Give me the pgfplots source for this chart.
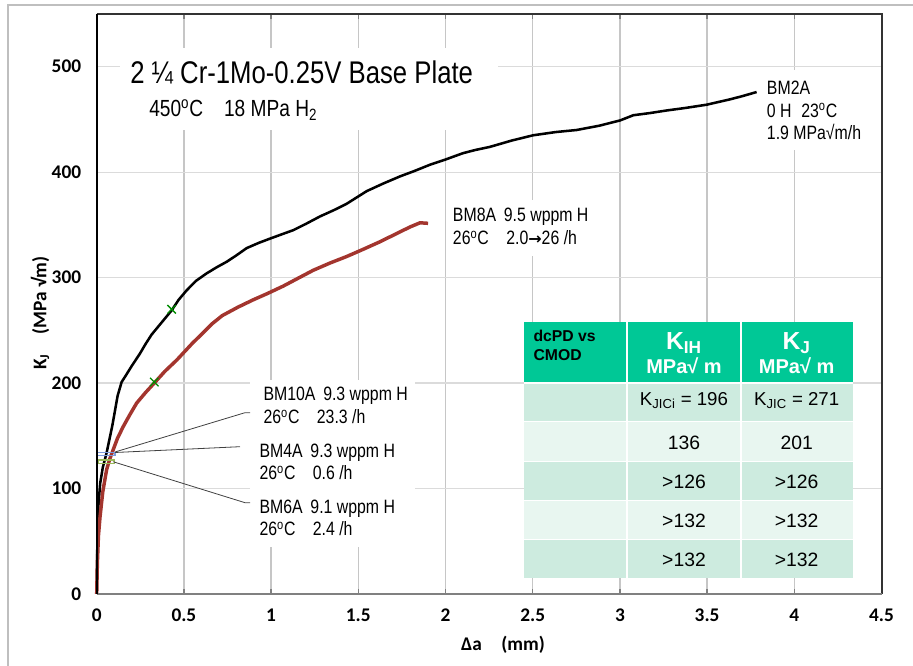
\documentclass[border=0pt]{standalone}
\usepackage{fontspec}
\setmainfont{Liberation Sans}
\newfontfamily\narrow[FakeStretch=0.82]{Liberation Sans}
\newfontfamily\carl{Carlito}
\newfontfamily\dejavu{DejaVu Sans}
\usepackage{pgfplots}
\pgfplotsset{compat=1.18}

\definecolor{bmred}{RGB}{163,53,46}
\definecolor{xgreen}{RGB}{0,140,0}
\definecolor{hdr}{RGB}{0,200,150}
\definecolor{rowA}{RGB}{205,235,223}
\definecolor{rowB}{RGB}{232,246,240}
\definecolor{framegray}{RGB}{191,191,191}
\definecolor{rectblue}{RGB}{125,155,220}
\definecolor{rectolive}{RGB}{155,187,89}

\newcommand{\ann}{\narrow\fontsize{14.5pt}{17pt}\selectfont}
\newcommand{\tb}{\fontsize{14.5pt}{17pt}\selectfont}

\begin{document}
\begin{tikzpicture}
\begin{axis}[
    scale only axis,
    width=588.6pt, height=435pt,
    xmin=0, xmax=4.5, ymin=0, ymax=550,
    xtick={0,0.5,...,4.5}, ytick={0,100,...,500},
    grid=major,
    x grid style={line width=1pt, color=gray!45},
    y grid style={line width=1pt, color=gray!28},
    axis line style={draw=none},
    tick align=inside,
    xtick style={draw=gray, line width=1pt},
    ytick style={draw=none},
    major tick length=4pt,
    ticklabel style={font=\carl\bfseries\fontsize{14.5pt}{16pt}\selectfont, inner sep=0pt},
    /pgf/number format/assume math mode=true,
    xticklabel style={yshift=-11pt},
    yticklabel style={xshift=-11.5pt},
    clip=false,
]
% BM2A, 0 H
\addplot[black, line width=1.9pt] coordinates {
 (0,0) (0.003,40) (0.008,80) (0.02,105) (0.035,120) (0.057,134) (0.09,160)
 (0.12,188) (0.143,201) (0.17,208) (0.2,216) (0.248,228)
 (0.28,237) (0.315,246) (0.36,255) (0.43,269) (0.47,279) (0.516,288)
 (0.57,297) (0.63,304) (0.69,310) (0.745,315) (0.8,321) (0.86,328)
 (0.93,333) (0.994,337) (1.06,341) (1.127,345) (1.2,351) (1.28,358)
 (1.36,364) (1.433,370) (1.5,377) (1.548,382) (1.64,389) (1.739,396)
 (1.82,401) (1.91,407) (2.0,412) (2.1,418) (2.17,421) (2.255,424)
 (2.38,430) (2.503,435) (2.63,438) (2.752,440) (2.88,444) (3.0,449)
 (3.077,454) (3.17,456) (3.268,458.5) (3.38,461) (3.498,464) (3.63,469)
 (3.70,472) (3.784,476)
};
% BM8A, 9.5 wppm H
\addplot[bmred, line width=2.6pt] coordinates {
 (0,0) (0.004,30) (0.01,55) (0.019,73) (0.035,97) (0.057,118) (0.075,128)
 (0.095,137) (0.12,148) (0.153,159) (0.19,170) (0.229,181) (0.28,191)
 (0.33,200) (0.39,211) (0.46,222) (0.55,238) (0.6,246) (0.66,256)
 (0.72,264) (0.81,272) (0.898,279) (0.98,285) (1.07,292) (1.15,299)
 (1.242,307) (1.34,314) (1.433,320) (1.53,327) (1.624,334) (1.71,341)
 (1.796,348) (1.854,352) (1.9,351.5)
};
% K_JIC markers
\addplot[only marks, mark=x, mark size=4.5pt, xgreen, line width=1pt]
 coordinates {(0.43,270) (0.33,201)};
% BM10A / BM4A / BM6A end points
\addplot[rectblue, line width=0.9pt] coordinates {
 (0.003,131) (0.105,131) (0.105,134) (0.003,134) (0.003,131)};
\addplot[rectolive, line width=0.9pt] coordinates {
 (0.01,124) (0.1,124) (0.1,127) (0.01,127) (0.01,124)};
\end{axis}

% annotations in pixel units of the reference
\begin{scope}[x=0.75pt, y=-0.75pt, shift={(-72.525pt,445.5pt)}]
 % chart frame and plot borders
 \draw[framegray, line width=1.1pt] (8,666) -- (8,5) -- (913,5);
 \draw[black!80, line width=1.5pt] (96.7,14) -- (882,14) -- (882,594);
 \draw[gray, line width=1.5pt] (96.7,594) -- (882,594);
 \draw[black, line width=1.5pt] (96.7,594) -- (96.7,14);

 % title
 \fill[white] (120,48) rectangle (498,130);
 \node[anchor=base west, inner sep=0, font=\narrow\fontsize{23.5pt}{28pt}\selectfont]
   at (130,83.3) {2 ¼ Cr-1Mo-0.25V Base Plate};
 \node[anchor=base west, inner sep=0, font=\narrow\fontsize{17.5pt}{21pt}\selectfont]
   at (149,116.7) {450\textsuperscript{o}C\hspace{0.9em}18 MPa H\textsubscript{2}};

 % BM2A
 \fill[white] (762,70) rectangle (870,150);
 \node[anchor=base west, inner sep=0, font=\ann] at (766.7,95) {BM2A};
 \node[anchor=base west, inner sep=0, font=\ann] at (766.7,117.3) {0 H\hspace{0.5em}23\textsuperscript{o}C};
 \node[anchor=base west, inner sep=0, font=\ann] at (766.7,140) {1.9 MPa√m/h};

 % BM8A
 \fill[white] (448,200) rectangle (595,256);
 \node[anchor=base west, inner sep=0, font=\ann] at (452.7,221.7) {BM8A\hspace{0.4em}9.5 wppm H};
 \node[anchor=base west, inner sep=0, font=\ann] at (452.7,245) {26\textsuperscript{o}C\hspace{0.9em}2.0{\dejavu\bfseries\fontsize{12pt}{14pt}\selectfont →}26 /h};

 % BM10A, BM4A, BM6A
 \fill[white] (250,380) rectangle (415,547);
 \draw[black!75, line width=0.6pt] (115,452) -- (245,412.7) -- (250,412.7);
 \draw[black!75, line width=0.6pt] (115,452.5) -- (240,446.7);
 \draw[black!75, line width=0.6pt] (113,461.7) -- (245,502.7) -- (250,502.7);
 \node[anchor=base west, inner sep=0, font=\ann] at (263.3,400.7) {BM10A\hspace{0.4em}9.3 wppm H};
 \node[anchor=base west, inner sep=0, font=\ann] at (263.3,424) {26\textsuperscript{o}C\hspace{0.9em}23.3 /h};
 \node[anchor=base west, inner sep=0, font=\ann] at (259.3,457.3) {BM4A\hspace{0.4em}9.3 wppm H};
 \node[anchor=base west, inner sep=0, font=\ann] at (259.3,480) {26\textsuperscript{o}C\hspace{0.9em}0.6 /h};
 \node[anchor=base west, inner sep=0, font=\ann] at (259.3,513.3) {BM6A\hspace{0.4em}9.1 wppm H};
 \node[anchor=base west, inner sep=0, font=\ann] at (259.3,536) {26\textsuperscript{o}C\hspace{0.9em}2.4 /h};

 % table
 \fill[hdr] (524,321.7) rectangle (852.7,381.7);
 \fill[rowA] (524,383.5) rectangle (852.7,421.7);
 \fill[rowB] (524,421.7) rectangle (852.7,461.7);
 \fill[rowA] (524,461.7) rectangle (852.7,500.5);
 \fill[rowB] (524,500.5) rectangle (852.7,539.3);
 \fill[rowA] (524,539.3) rectangle (852.7,578.3);
 \draw[white, line width=1.5pt] (524,383) -- (852.7,383);
 \foreach \yy in {421.7,461.7,500.5,539.3} \draw[white, line width=1.1pt] (524,\yy) -- (852.7,\yy);
 \foreach \xx in {627.3,740.7} \draw[white, line width=1.5pt] (\xx,321.7) -- (\xx,578.3);
 \node[anchor=base west, inner sep=0, font=\bfseries\fontsize{11.8pt}{14pt}\selectfont] at (533.3,341.7) {dcPD vs};
 \node[anchor=base west, inner sep=0, font=\bfseries\fontsize{11.8pt}{14pt}\selectfont] at (533.3,361) {CMOD};
 \node[anchor=base, inner sep=0, white, font=\bfseries\fontsize{18.5pt}{20pt}\selectfont] at (684,349.3) {K\textsubscript{IH}};
 \node[anchor=base, inner sep=0, white, font=\bfseries\fontsize{15pt}{17pt}\selectfont] at (684,374) {MPa√ m};
 \node[anchor=base, inner sep=0, white, font=\bfseries\fontsize{18.5pt}{20pt}\selectfont] at (796.7,349.3) {K\textsubscript{J}};
 \node[anchor=base, inner sep=0, white, font=\bfseries\fontsize{15pt}{17pt}\selectfont] at (796.7,374) {MPa√ m};
 \node[anchor=base, inner sep=0, font=\fontsize{14pt}{17pt}\selectfont] at (684,406) {K\textsubscript{JICi} = 196};
 \node[anchor=base, inner sep=0, font=\fontsize{14pt}{17pt}\selectfont] at (796.7,406) {K\textsubscript{JIC} = 271};
 \node[anchor=base, inner sep=0, font=\tb] at (684,449.3) {136};
 \node[anchor=base, inner sep=0, font=\tb] at (796.7,449.3) {201};
 \node[anchor=base, inner sep=0, font=\tb] at (684,488.3) {>126};
 \node[anchor=base, inner sep=0, font=\tb] at (796.7,488.3) {>126};
 \node[anchor=base, inner sep=0, font=\tb] at (684,527.7) {>132};
 \node[anchor=base, inner sep=0, font=\tb] at (796.7,527.7) {>132};
 \node[anchor=base, inner sep=0, font=\tb] at (684,566.7) {>132};
 \node[anchor=base, inner sep=0, font=\tb] at (796.7,566.7) {>132};

 % axis titles
 \node[font=\carl\bfseries\fontsize{14.5pt}{16pt}\selectfont] at (503,645) {Δa\hspace{1em}(mm)};
 \node[rotate=90, font=\carl\bfseries\fontsize{14.5pt}{16pt}\selectfont] at (40,313) {K\textsubscript{J}\hspace{1em}(MPa √m)};

 \pgfresetboundingbox
 \path[use as bounding box] (0,0) rectangle (913,666);
\end{scope}
\end{tikzpicture}
\end{document}
